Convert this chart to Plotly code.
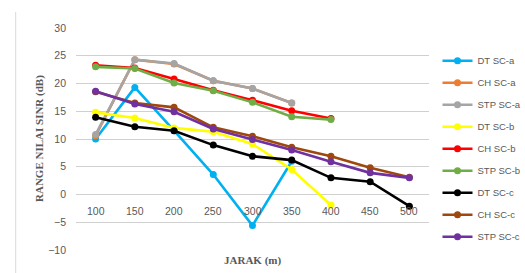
import plotly.graph_objects as go

jarak = ["100", "150", "200", "250", "300", "350", "400", "450", "500"]

dt_sc_a = [10.0, 19.3, 11.5, 3.6, -5.6, 6.0]
ch_sc_a = [10.6, 24.3, 23.5, 20.5, 19.1, 16.5]
stp_sc_a = [10.8, 24.3, 23.6, 20.5, 19.1, 16.5]
dt_sc_b = [14.8, 13.8, 12.0, 11.3, 9.1, 4.5, -1.9]
ch_sc_b = [23.3, 22.8, 20.8, 18.8, 17.0, 15.1, 13.7]
stp_sc_b = [23.0, 22.7, 20.1, 18.7, 16.6, 14.0, 13.5]
dt_sc_c = [13.9, 12.2, 11.5, 8.9, 6.9, 6.2, 3.0, 2.3, -2.1]
ch_sc_c = [18.5, 16.5, 15.7, 12.1, 10.5, 8.5, 6.9, 4.8, 3.1]
stp_sc_c = [18.6, 16.3, 14.9, 11.8, 9.9, 8.0, 5.9, 3.9, 3.0]

series = [
    ("DT SC-a", dt_sc_a, "#00B0F0"),
    ("CH SC-a", ch_sc_a, "#ED7D31"),
    ("STP SC-a", stp_sc_a, "#A5A5A5"),
    ("DT SC-b", dt_sc_b, "#FFFF00"),
    ("CH SC-b", ch_sc_b, "#FF0000"),
    ("STP SC-b", stp_sc_b, "#70AD47"),
    ("DT SC-c", dt_sc_c, "#000000"),
    ("CH SC-c", ch_sc_c, "#9E480E"),
    ("STP SC-c", stp_sc_c, "#7030A0"),
]

fig = go.Figure()
for i, (name, vals, col) in enumerate(series):
    fig.add_trace(go.Scatter(
        x=jarak[:len(vals)], y=vals, name=name, mode="lines+markers",
        line=dict(color=col, width=2.6), marker=dict(color=col, size=7),
        legendgroup=f"g{i}",
    ))

tick_font = dict(family="Liberation Sans, Arial, sans-serif", size=10.5, color="#595959")
title_font = dict(family="Liberation Serif, Times New Roman, serif", size=11, color="#595959")

# category labels sit just below the zero line, as in the original
x_labels = [dict(text=c, x=i, y=0, xref="x", yref="y", yshift=-16,
                 xanchor="center", yanchor="middle", showarrow=False, font=tick_font)
            for i, c in enumerate(jarak)]

fig.update_layout(
    width=525, height=273,
    margin=dict(l=76, r=96, t=28, b=23, autoexpand=False),
    paper_bgcolor="white", plot_bgcolor="white",
    showlegend=True,
    legend=dict(x=(437.5 - 76) / 353, y=0.918, xanchor="left", yanchor="top",
                font=dict(family="Liberation Sans, Arial, sans-serif", size=9.5, color="#595959"),
                tracegroupgap=3, itemwidth=30, bgcolor="rgba(0,0,0,0)"),
    xaxis=dict(type="category", categoryorder="array", categoryarray=jarak,
               range=[-0.5, 8.5], showgrid=False, showline=False, zeroline=False,
               showticklabels=False, ticks="", automargin=False),
    yaxis=dict(range=[-10, 30], dtick=5, showgrid=True, gridcolor="#D0D0D0",
               gridwidth=1, zeroline=False, showline=False, tickfont=tick_font,
               ticks="", ticklabelstandoff=9, automargin=False),
    annotations=x_labels + [
        dict(text="<b>JARAK (m)</b>", xref="paper", yref="paper", x=0.5, y=-0.048,
             xanchor="center", yanchor="middle", showarrow=False, font=title_font),
        dict(text="<b>RANGE NILAI SINR (dB)</b>", xref="paper", yref="paper",
             x=(39 - 76) / 353, y=0.5, xanchor="center", yanchor="middle",
             textangle=-90, showarrow=False, font=title_font),
    ],
    shapes=[dict(type="line", xref="paper", yref="paper",
                 x0=(15.7 - 76) / 353, x1=(15.7 - 76) / 353,
                 y0=(250 - 12) / 222, y1=(250 - 273) / 222,
                 line=dict(color="#D9D9D9", width=1))],
)

fig.write_html(
    "out.html",
    config={"displayModeBar": False},
    post_script="document.body.style.margin='0';document.body.style.overflow='hidden';",
)
